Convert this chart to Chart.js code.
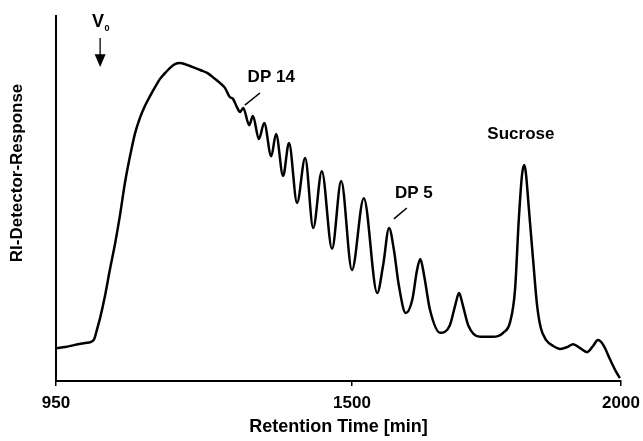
<!DOCTYPE html>
<html>
<head>
<meta charset="utf-8">
<script src="https://cdn.jsdelivr.net/npm/chart.js@4.4.1/dist/chart.umd.min.js"></script>
<style>
  html, body { margin: 0; padding: 0; background: #fff; }
  #wrap { width: 643px; height: 441px; }
</style>
</head>
<body>
<div id="wrap"><canvas id="myChart" width="643" height="441"></canvas></div>
<script>
// chromatogram trace (response in arbitrary units 0-100)
const retentionTime = [952, 967, 985, 1004, 1015, 1021, 1026, 1032, 1041, 1050, 1060, 1069, 1078, 1088, 1097, 1106, 1115, 1125, 1134, 1143, 1153, 1162, 1171, 1180, 1190, 1199, 1208, 1218, 1231, 1246, 1255, 1264, 1273, 1279, 1286, 1292, 1298, 1309, 1316, 1327, 1337, 1350, 1359, 1372, 1383, 1398, 1413, 1428, 1444, 1463, 1480, 1500, 1522, 1547, 1558, 1569, 1578, 1587, 1600, 1612, 1621, 1627, 1634, 1645, 1664, 1682, 1692, 1699, 1706, 1716, 1738, 1762, 1781, 1794, 1803, 1810, 1816, 1820, 1823, 1829, 1837, 1844, 1851, 1861, 1874, 1887, 1900, 1911, 1924, 1937, 1948, 1957, 1967, 1980, 1991, 1998];
const riResponse = [9.0, 9.3, 9.9, 10.4, 10.7, 11.5, 14.0, 17.3, 23.3, 30.4, 37.8, 45.5, 54.2, 61.9, 67.9, 72.1, 75.3, 78.1, 80.5, 82.7, 84.4, 85.8, 86.8, 87.1, 86.8, 86.3, 85.8, 85.2, 84.4, 82.7, 81.6, 80.3, 77.8, 77.3, 75.1, 73.7, 74.8, 70.1, 72.6, 66.3, 70.7, 61.6, 67.7, 56.2, 65.2, 48.8, 61.1, 41.9, 57.5, 36.2, 54.8, 30.4, 50.1, 24.1, 31.8, 41.9, 35.9, 26.3, 18.6, 22.2, 30.4, 33.4, 29.0, 19.5, 13.2, 15.3, 20.8, 24.1, 20.8, 15.3, 12.1, 12.1, 13.2, 16.2, 24.9, 44.1, 56.4, 59.2, 57.3, 46.8, 32.6, 20.8, 14.5, 11.2, 9.6, 8.8, 9.3, 10.1, 9.0, 7.9, 9.6, 11.2, 9.9, 5.8, 2.5, 0.8];
const xTickValues = [950, 1500, 2000];

// peak names and where they sit (data units)
const peakNames = ['DP 14', 'DP 5', 'Sucrose'];
const peakNameTimes = [1350, 1615, 1814];
const peakNameLevels = [83.2, 51.5, 67.7];
const leaderLines = [[1301, 75.6, 1329, 78.9], [1578, 44.4, 1602, 47.4]];
const voidTime = 1032;

const FONT = "'Liberation Sans', Arial, Helvetica, sans-serif";

const annotations = {
  id: 'annotations',
  afterDatasetsDraw(chart) {
    const { ctx, chartArea } = chart;
    const x = chart.scales.x, y = chart.scales.y;
    ctx.save();
    ctx.fillStyle = '#000';
    ctx.strokeStyle = '#000';
    ctx.textAlign = 'center';
    ctx.textBaseline = 'middle';

    ctx.font = 'bold 17px ' + FONT;
    peakNames.forEach((name, i) => {
      ctx.fillText(name, x.getPixelForValue(peakNameTimes[i]), y.getPixelForValue(peakNameLevels[i]));
    });

    ctx.lineWidth = 1.5;
    leaderLines.forEach((l) => {
      ctx.beginPath();
      ctx.moveTo(x.getPixelForValue(l[0]), y.getPixelForValue(l[1]));
      ctx.lineTo(x.getPixelForValue(l[2]), y.getPixelForValue(l[3]));
      ctx.stroke();
    });

    // V0 with arrow
    const vx = x.getPixelForValue(voidTime);
    ctx.font = 'bold 18px ' + FONT;
    ctx.fillText('V', vx - 2, y.getPixelForValue(98.4));
    ctx.font = 'bold 9px ' + FONT;
    ctx.fillText('0', vx + 7, y.getPixelForValue(96.6));
    ctx.lineWidth = 1.3;
    ctx.beginPath();
    ctx.moveTo(vx, y.getPixelForValue(94.0));
    ctx.lineTo(vx, y.getPixelForValue(89.0));
    ctx.stroke();
    ctx.beginPath();
    ctx.moveTo(vx - 5.5, y.getPixelForValue(89.5));
    ctx.lineTo(vx + 5.5, y.getPixelForValue(89.5));
    ctx.lineTo(vx, y.getPixelForValue(86.0));
    ctx.closePath();
    ctx.fill();

    // y axis title, sits a bit above the middle
    ctx.font = 'bold 17px ' + FONT;
    ctx.translate(17, chartArea.top + (chartArea.bottom - chartArea.top) * 0.43);
    ctx.rotate(-Math.PI / 2);
    ctx.fillText('RI-Detector-Response', 0, 0);
    ctx.restore();
  }
};

new Chart(document.getElementById('myChart'), {
  type: 'line',
  data: {
    datasets: [{
      data: retentionTime.map((t, i) => ({ x: t, y: riResponse[i] })),
      borderColor: '#000',
      borderWidth: 2.5,
      pointRadius: 0,
      cubicInterpolationMode: 'monotone',
      fill: false
    }]
  },
  options: {
    responsive: false,
    animation: false,
    layout: { padding: { top: 16, right: 22, left: 0, bottom: 0 } },
    plugins: { legend: { display: false }, tooltip: { enabled: false } },
    scales: {
      x: {
        type: 'linear',
        min: 950,
        max: 2000,
        afterBuildTicks: (scale) => { scale.ticks = xTickValues.map((v) => ({ value: v })); },
        afterFit: (scale) => { scale.paddingLeft = 0; scale.paddingRight = 0; },
        ticks: {
          color: '#000',
          padding: 7,
          maxRotation: 0,
          autoSkip: false,
          callback: (v) => String(v),
          font: { family: FONT, size: 17, weight: 'bold' }
        },
        grid: { drawOnChartArea: false, tickLength: 5, color: '#000', lineWidth: 1.5 },
        border: { color: '#000', width: 2 },
        title: {
          display: true,
          text: 'Retention Time [min]',
          color: '#000',
          padding: { top: -4, bottom: 3 },
          font: { family: FONT, size: 18, weight: 'bold' }
        }
      },
      y: {
        min: 0,
        max: 100,
        ticks: { display: false },
        grid: { drawOnChartArea: false, drawTicks: false },
        border: { color: '#000', width: 2 },
        afterFit: (scale) => { scale.width = 56; }
      }
    }
  },
  plugins: [annotations]
});
</script>
</body>
</html>
